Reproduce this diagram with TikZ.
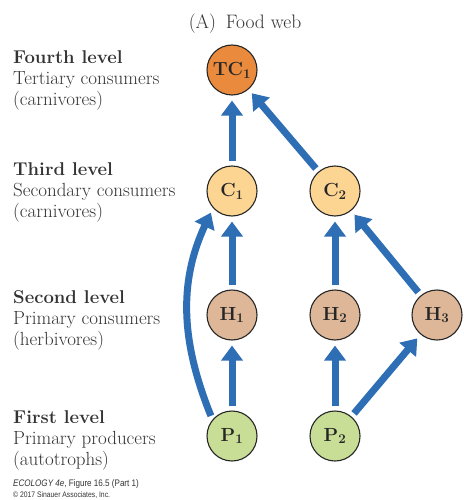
\documentclass[tikz,border=0pt]{standalone}
\usepackage{fontspec}
\newfontfamily\footfont{Liberation Sans}
\usetikzlibrary{arrows.meta}
\definecolor{tcfill}{HTML}{E98A3C}
\definecolor{cfill}{HTML}{FCD593}
\definecolor{hfill}{HTML}{DDB797}
\definecolor{pfill}{HTML}{C8DD96}
\definecolor{arrowblue}{HTML}{2E6EB5}
\definecolor{labelgray}{HTML}{333333}
\tikzset{
  species/.style={circle, draw=black!85, line width=1.1pt, minimum size=50pt, inner sep=0pt,
    font=\fontsize{19}{21}\selectfont\bfseries, text=black!85},
  feed/.style={draw=arrowblue, line width=7pt,
    -{Triangle[width=21pt,length=15pt]}, shorten >=5pt, shorten <=4pt},
  levelhead/.style={anchor=base west, inner sep=0pt, font=\fontsize{18.5}{21}\selectfont\bfseries, text=labelgray},
  leveltext/.style={anchor=base west, inner sep=0pt, font=\fontsize{19}{21}\selectfont, text=labelgray},
}
\begin{document}
\begin{tikzpicture}[x=1pt,y=1pt]
\useasboundingbox (0,0) rectangle (463,-500);
\fill[white] (0,0) rectangle (463,-500);
% title
\node[anchor=base, inner sep=0pt, font=\fontsize{19.5}{21}\selectfont, text=labelgray] (title) at (245,-29) {(A)\enspace Food web};
% species
\node[species, fill=tcfill] (TC1) at (232,-70) {TC\textsubscript{1}};
\node[species, fill=cfill] (C1) at (232,-191) {C\textsubscript{1}};
\node[species, fill=cfill] (C2) at (335,-191) {C\textsubscript{2}};
\node[species, fill=hfill] (H1) at (232,-315) {H\textsubscript{1}};
\node[species, fill=hfill] (H2) at (335,-315) {H\textsubscript{2}};
\node[species, fill=hfill] (H3) at (437,-315) {H\textsubscript{3}};
\node[species, fill=pfill] (P1) at (232,-436) {P\textsubscript{1}};
\node[species, fill=pfill] (P2) at (335,-436) {P\textsubscript{2}};
% feeding links
\draw[feed] (C1) -- (TC1);
\draw[feed] (C2) -- (TC1);
\draw[feed] (H1) -- (C1);
\draw[feed] (H2) -- (C2);
\draw[feed] (H3) -- (C2);
\draw[feed] (P1) -- (H1);
\draw[feed] (P2) -- (H2);
\draw[feed] (P2) -- (H3);
\draw[feed] (P1.140) to[out=112, in=245] (C1.222);
% level labels
\node[levelhead] (l4a) at (13,-64) {Fourth level};
\node[leveltext] (l4b) at (13,-85) {Tertiary consumers};
\node[leveltext] (l4c) at (13,-106) {(carnivores)};
\node[levelhead] (l3a) at (13,-175) {Third level};
\node[leveltext] (l3b) at (13,-196) {Secondary consumers};
\node[leveltext] (l3c) at (13,-217) {(carnivores)};
\node[levelhead] (l2a) at (13,-303) {Second level};
\node[leveltext] (l2b) at (13,-324) {Primary consumers};
\node[leveltext] (l2c) at (13,-345) {(herbivores)};
\node[levelhead] (l1a) at (13,-423) {First level};
\node[leveltext] (l1b) at (13,-444) {Primary producers};
\node[leveltext] (l1c) at (13,-465) {(autotrophs)};
% footer
\node[anchor=base west, inner sep=0pt, font=\footfont\fontsize{9.5}{10}\selectfont, text=black!80] (foot1) at (13,-486)
  {\scalebox{0.85}[1]{\textit{ECOLOGY 4e}, Figure 16.5 (Part 1)}};
\node[anchor=base west, inner sep=0pt, font=\footfont\fontsize{8}{9}\selectfont, text=black!80] (foot2) at (13,-497)
  {\scalebox{0.85}[1]{\textcopyright{} 2017 Sinauer Associates, Inc.}};
\end{tikzpicture}
\end{document}
